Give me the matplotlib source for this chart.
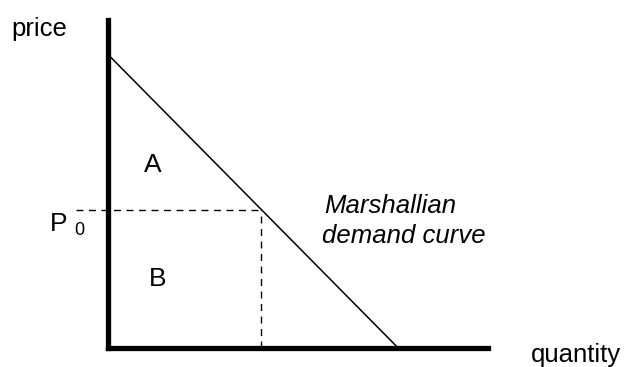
import matplotlib.pyplot as plt

# demand curve end points (quantity, price) and the chosen price level
demand_quantity = [0, 7.65]
demand_price = [8.95, 0]
p0 = 4.21
q0 = 4.05

W, H = 624, 367
fig = plt.figure(figsize=(W / 100, H / 100), dpi=100)
plt.rcParams['font.family'] = ['Liberation Sans', 'DejaVu Sans']

# axes placed so the origin sits where the thick axis lines meet
ax = fig.add_axes([107.5 / W, (H - 348) / H, (487.5 - 107.5) / W, (348 - 19.5) / H])
ax.set_xlim(0, 10)
ax.set_ylim(0, 10)
ax.patch.set_visible(False)
for side in ['top', 'right']:
    ax.spines[side].set_visible(False)
for side in ['left', 'bottom']:
    ax.spines[side].set_linewidth(3.8)
    ax.spines[side].set_capstyle('projecting')
ax.set_xticks([])
ax.set_yticks([])

# demand line
ax.plot(demand_quantity, demand_price, color='black', lw=1.1)

# dashed guides at P0 / Q0
ax.plot([-0.83, q0], [p0, p0], color='black', lw=1.0, dashes=(5, 4), clip_on=False)
ax.plot([q0, q0], [0, p0], color='black', lw=1.0, dashes=(5, 4), clip_on=False)


def label(x, y, s, size=18.5, **kw):
    fig.text(x / W, 1 - y / H, s, fontsize=size, ha='left', va='baseline', **kw)


label(11, 36, 'price')
label(531, 362, 'quantity')
label(50, 231, 'P', size=19)
label(74, 235, '0', size=13)
label(144, 172, 'A', size=19)
label(149, 286, 'B', size=19)
label(324, 213, 'Marshallian', style='italic')
label(322, 243, 'demand curve', style='italic')

fig.savefig('out.png', dpi=100)
